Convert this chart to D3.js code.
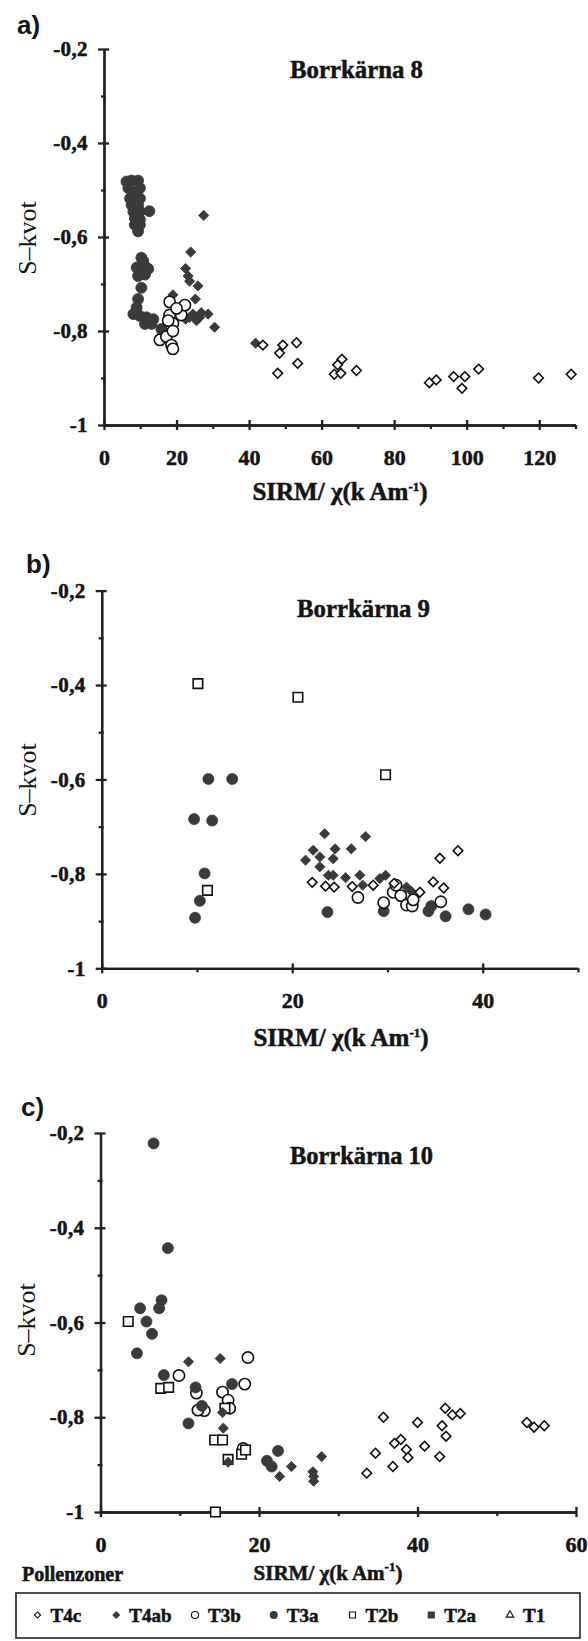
<!DOCTYPE html>
<html>
<head>
<meta charset="utf-8">
<script src="https://cdn.jsdelivr.net/npm/d3@7"></script>
<style>
body { margin: 0; background: #fff; }
svg text { font-family: "Liberation Serif", "Times New Roman", serif; fill: #151515; }
</style>
</head>
<body>
<div class="chart_frame"></div>
<script>
// pollen zones, in legend order
var zones = ["T4c", "T4ab", "T3b", "T3a", "T2b", "T2a", "T1"];

// y axis (S-kvot)
var yMajor = [-1, -0.8, -0.6, -0.4, -0.2],
    yMinor = [-0.9, -0.7, -0.5, -0.3];

// Borrkärna 8
var a_xMajor = [0, 20, 40, 60, 80, 100, 120],
    a_xMinor = [10, 30, 50, 70, 90, 110, 130];
var a_T4c = [[43.8,-0.830],[49.3,-0.830],[48.4,-0.847],[53.1,-0.825],[53.4,-0.869],[47.9,-0.890],
    [65.6,-0.860],[64.4,-0.872],[63.5,-0.892],[65.3,-0.890],[69.6,-0.884],[89.7,-0.910],[91.6,-0.904],
    [96.4,-0.897],[99.5,-0.897],[98.7,-0.922],[103.3,-0.881],[119.8,-0.900],[128.8,-0.892]];
var a_T4ab = [[27.5,-0.554],[23.9,-0.632],[22.5,-0.667],[23.2,-0.683],[23.6,-0.694],[25.9,-0.704],
    [25.2,-0.732],[19.0,-0.723],[26.8,-0.761],[28.7,-0.764],[30.5,-0.792],[23.6,-0.771],[25.5,-0.778],
    [24.5,-0.764],[26.4,-0.771],[22.5,-0.775],[41.8,-0.826]];
var a_T3a = [[6.2,-0.482],[7.6,-0.480],[9.4,-0.480],[6.7,-0.496],[8.1,-0.505],[9.9,-0.496],[7.2,-0.518],
    [9.0,-0.511],[9.9,-0.518],[7.6,-0.532],[9.4,-0.532],[8.1,-0.546],[9.9,-0.546],[8.5,-0.560],[9.9,-0.563],
    [8.5,-0.574],[9.9,-0.574],[9.4,-0.588],[12.5,-0.545],[10.3,-0.644],[10.8,-0.651],[11.7,-0.665],
    [9.0,-0.665],[12.2,-0.668],[9.4,-0.683],[11.3,-0.680],[10.3,-0.708],[9.4,-0.732],[9.0,-0.750],
    [8.1,-0.764],[9.9,-0.768],[11.7,-0.771],[13.6,-0.775],[13.1,-0.785],[11.3,-0.785],[15.8,-0.796],
    [16.3,-0.806]];
var a_T3b = [[15.4,-0.819],[17.2,-0.812],[18.1,-0.738],[18.1,-0.766],[21.3,-0.766],[22.3,-0.745],
    [19.0,-0.784],[19.0,-0.800],[18.6,-0.830],[19.0,-0.838],[17.7,-0.778],[20.0,-0.752]];

// Borrkärna 9
var b_xMajor = [0, 20, 40],
    b_xMinor = [10, 30, 50];
var b_T4c = [[22.1,-0.818],[23.5,-0.826],[24.4,-0.828],[26.3,-0.827],[28.5,-0.824],[30.7,-0.820],
    [33.4,-0.839],[34.8,-0.817],[35.9,-0.830],[35.5,-0.767],[37.4,-0.751]];
var b_T4ab = [[23.4,-0.715],[27.7,-0.721],[21.4,-0.771],[22.2,-0.750],[22.9,-0.764],[24.5,-0.747],
    [24.3,-0.768],[26.2,-0.747],[22.9,-0.785],[23.8,-0.803],[24.3,-0.803],[25.6,-0.808],[27.1,-0.803],
    [29.2,-0.810],[29.8,-0.803],[27.4,-0.824],[32.0,-0.828],[32.5,-0.837]];
var b_T3a = [[11.2,-0.599],[13.7,-0.599],[9.7,-0.684],[11.6,-0.687],[10.8,-0.799],[10.3,-0.857],
    [9.8,-0.893],[23.7,-0.881],[29.6,-0.879],[34.3,-0.879],[34.6,-0.868],[36.1,-0.890],[38.5,-0.875],
    [40.3,-0.886]];
var b_T3b = [[26.9,-0.850],[29.6,-0.861],[30.6,-0.839],[31.4,-0.846],[32.0,-0.866],[32.6,-0.868],
    [32.7,-0.855],[35.6,-0.859],[30.9,-0.824]];
var b_T2b = [[10.1,-0.397],[20.6,-0.426],[29.8,-0.590],[11.1,-0.835]];

// Borrkärna 10
var c_xMajor = [0, 20, 40, 60],
    c_xMinor = [10, 30, 50];
var c_T4c = [[35.7,-0.800],[40.0,-0.811],[43.5,-0.781],[44.4,-0.795],[45.4,-0.792],[43.1,-0.818],
    [43.6,-0.840],[42.8,-0.883],[40.9,-0.861],[37.9,-0.847],[37.1,-0.855],[38.6,-0.868],[38.8,-0.885],
    [36.9,-0.904],[34.7,-0.876],[33.6,-0.918],[53.8,-0.811],[54.7,-0.821],[56.0,-0.818]];
var c_T4ab = [[11.1,-0.683],[15.1,-0.676],[15.4,-0.790],[15.5,-0.823],[16.1,-0.895],[22.6,-0.925],
    [24.1,-0.904],[27.9,-0.883],[26.8,-0.915],[26.9,-0.925],[26.9,-0.935]];
var c_T3b = [[9.9,-0.712],[12.1,-0.749],[13.1,-0.786],[12.3,-0.785],[18.6,-0.674],[18.2,-0.730],
    [15.4,-0.747],[16.1,-0.764],[16.3,-0.781],[18.0,-0.866]];
var c_T3a = [[6.7,-0.222],[8.5,-0.443],[5.0,-0.570],[5.8,-0.598],[6.5,-0.624],[4.6,-0.665],[7.7,-0.553],
    [7.4,-0.570],[8.0,-0.711],[12.0,-0.737],[12.8,-0.776],[11.1,-0.813],[16.6,-0.730],[22.4,-0.871],
    [21.0,-0.892],[21.6,-0.904]];
var c_T2b = [[3.5,-0.598],[7.6,-0.739],[8.6,-0.737],[15.7,-0.781],[14.4,-0.848],[15.4,-0.848],
    [16.1,-0.889],[17.8,-0.878],[18.3,-0.869],[14.5,-1.0]];


var dark = "#3a3a3a", ink = "#111";

// marker look per zone
var marker = {
    'T4c':  {type: d3.symbolSquare,   rot: 45, fill: false, size: 46},
    'T4ab': {type: d3.symbolSquare,   rot: 45, fill: true,  size: 52},
    'T3b':  {type: d3.symbolCircle,   rot: 0,  fill: false, size: 100},
    'T3a':  {type: d3.symbolCircle,   rot: 0,  fill: true,  size: 95},
    'T2b':  {type: d3.symbolSquare,   rot: 0,  fill: false, size: 90},
    'T2a':  {type: d3.symbolSquare,   rot: 0,  fill: true,  size: 90},
    'T1':   {type: d3.symbolTriangle, rot: 0,  fill: false, size: 60}
};

var svg = d3.select('.chart_frame').append('svg')
    .attr('width', 588)
    .attr('height', 1641);

function y_fmt(v) {
    if (v == -1) return '-1';
    return d3.format('.1f')(v).replace('.', ',').replace('\u2212', '-');
}

// scanned print is heavy: thicken glyphs a little
function heavy(sel, size) {
    sel.style('font-family', '"Liberation Serif", serif')
        .attr('font-weight', 'bold')
        .attr('font-size', size)
        .attr('fill', ink)
        .attr('stroke', ink)
        .attr('stroke-width', 0.5);
}

function add_marks(g, pts, zone, x, y) {
    var m = marker[zone];
    var sym = d3.symbol().type(m.type).size(m.size);
    g.append('g').attr('class', 'zone_' + zone)
        .selectAll('path')
        .data(pts)
        .enter().append('path')
        .attr('d', sym)
        .attr('transform', function(d) {
            return 'translate(' + x(d[0]) + ',' + y(d[1]) + ') rotate(' + m.rot + ')';
        })
        .attr('fill', m.fill ? dark : '#fff')
        .attr('stroke', m.fill ? dark : '#111')
        .attr('stroke-width', m.fill ? 0.8 : 1.6);
}

function plot_panel(p) {
    var x = d3.scaleLinear().domain([0, p.xMax]).range([p.left, p.right]),
        y = d3.scaleLinear().domain([-1, -0.2]).range([p.bottom, p.top]);

    var g = svg.append('g').attr('class', 'panel');

    // panel letter and title
    g.append('text')
        .attr('x', p.letter[1]).attr('y', p.letter[2])
        .style('font-family', '"Liberation Sans", Arial, sans-serif')
        .attr('font-weight', 'bold').attr('font-size', 26)
        .text(p.letter[0]);
    g.append('text')
        .attr('x', p.title[1]).attr('y', p.title[2])
        .attr('textLength', p.title[3]).attr('lengthAdjust', 'spacingAndGlyphs')
        .text(p.title[0])
        .call(heavy, 25);

    // y axis, minor and major ticks in their own groups
    var yMinorG = g.append('g').attr('transform', 'translate(' + p.left + ',0)')
        .call(d3.axisLeft(y).tickValues(yMinor).tickSize(3).tickSizeOuter(0).tickFormat(''));
    yMinorG.selectAll('.tick line').attr('x1', 2);
    var ya = g.append('g').attr('transform', 'translate(' + p.left + ',0)')
        .call(d3.axisLeft(y).tickValues(yMajor).tickSize(6).tickSizeOuter(0).tickPadding(10).tickFormat(y_fmt));
    ya.selectAll('.tick line').attr('x1', 5);
    ya.selectAll('text').call(heavy, 21).attr('letter-spacing', 0.4);

    // x axis
    var xMinorG = g.append('g').attr('transform', 'translate(0,' + p.bottom + ')')
        .call(d3.axisBottom(x).tickValues(p.xMinor).tickSize(4).tickSizeOuter(0).tickFormat(''));
    var xa = g.append('g').attr('transform', 'translate(0,' + p.bottom + ')')
        .call(d3.axisBottom(x).tickValues(p.xMajor).tickSize(5).tickSizeOuter(0).tickPadding(19).tickFormat(d3.format('d')));
    xa.selectAll('.tick line').attr('y1', -5);
    xa.selectAll('text').call(heavy, 22);

    g.selectAll('.domain, .tick line').attr('stroke', '#222').attr('stroke-width', 2.3);

    // axis titles
    g.append('text')
        .attr('transform', 'translate(' + p.yLabel[0] + ',' + p.yLabel[1] + ') rotate(-90)')
        .attr('text-anchor', 'middle')
        .attr('font-size', 26)
        .text('S\u2013kvot');
    var xl = g.append('text')
        .attr('x', p.xLabel[0]).attr('y', p.xLabel[1])
        .attr('text-anchor', 'middle')
        .call(heavy, p.xLabel[2]);
    xl.append('tspan').text('SIRM/ \u03c7(k Am');
    xl.append('tspan').attr('dy', -9).attr('font-size', 13).text('-1');
    xl.append('tspan').attr('dy', 9).text(')');

    // data
    var marks = g.append('g').attr('class', 'marks');
    p.series.forEach(function(s) {
        add_marks(marks, s[1], s[0], x, y);
    });
}

plot_panel({
    letter: ['a)', 17, 34], title: ['Borrkärna 8', 290, 78, 133],
    left: 104, right: 575.5, top: 49, bottom: 425, xMax: 130,
    xMajor: a_xMajor, xMinor: a_xMinor,
    yLabel: [36, 238], xLabel: [340, 500, 25],
    series: [['T3a', a_T3a], ['T4ab', a_T4ab], ['T3b', a_T3b], ['T4c', a_T4c]]
});

plot_panel({
    letter: ['b)', 26, 573], title: ['Borrkärna 9', 297, 617, 133],
    left: 101.7, right: 578, top: 590.6, bottom: 968.3, xMax: 50,
    xMajor: b_xMajor, xMinor: b_xMinor,
    yLabel: [36, 780], xLabel: [341, 1046, 25],
    series: [['T3a', b_T3a], ['T4ab', b_T4ab], ['T3b', b_T3b], ['T4c', b_T4c], ['T2b', b_T2b]]
});

plot_panel({
    letter: ['c)', 21, 1116], title: ['Borrkärna 10', 290, 1164, 143],
    left: 100.5, right: 576, top: 1133, bottom: 1512, xMax: 60,
    xMajor: c_xMajor, xMinor: c_xMinor,
    yLabel: [35, 1320], xLabel: [328, 1580, 21],
    series: [['T3b', c_T3b], ['T2b', c_T2b], ['T3a', c_T3a], ['T4ab', c_T4ab], ['T4c', c_T4c]]
});

// legend
svg.append('text')
    .attr('x', 22).attr('y', 1581)
    .text('Pollenzoner')
    .call(heavy, 20);
svg.append('rect')
    .attr('x', 16).attr('y', 1593)
    .attr('width', 564).attr('height', 45)
    .attr('fill', 'none').attr('stroke', '#222').attr('stroke-width', 1.6);

var lx = d3.scaleLinear().domain([0, zones.length - 1]).range([37.5, 510]);
var legend = svg.append('g').attr('class', 'legend');
zones.forEach(function(z, i) {
    var m = marker[z];
    legend.append('path')
        .attr('d', d3.symbol().type(m.type).size(m.size * 0.4))
        .attr('transform', 'translate(' + lx(i) + ',1615) rotate(' + m.rot + ')')
        .attr('fill', m.fill ? dark : '#fff')
        .attr('stroke', m.fill ? dark : '#111')
        .attr('stroke-width', 1.1);
    legend.append('text')
        .attr('x', lx(i) + 13).attr('y', 1622)
        .text(z)
        .call(heavy, 19);
});
</script>
</body>
</html>
